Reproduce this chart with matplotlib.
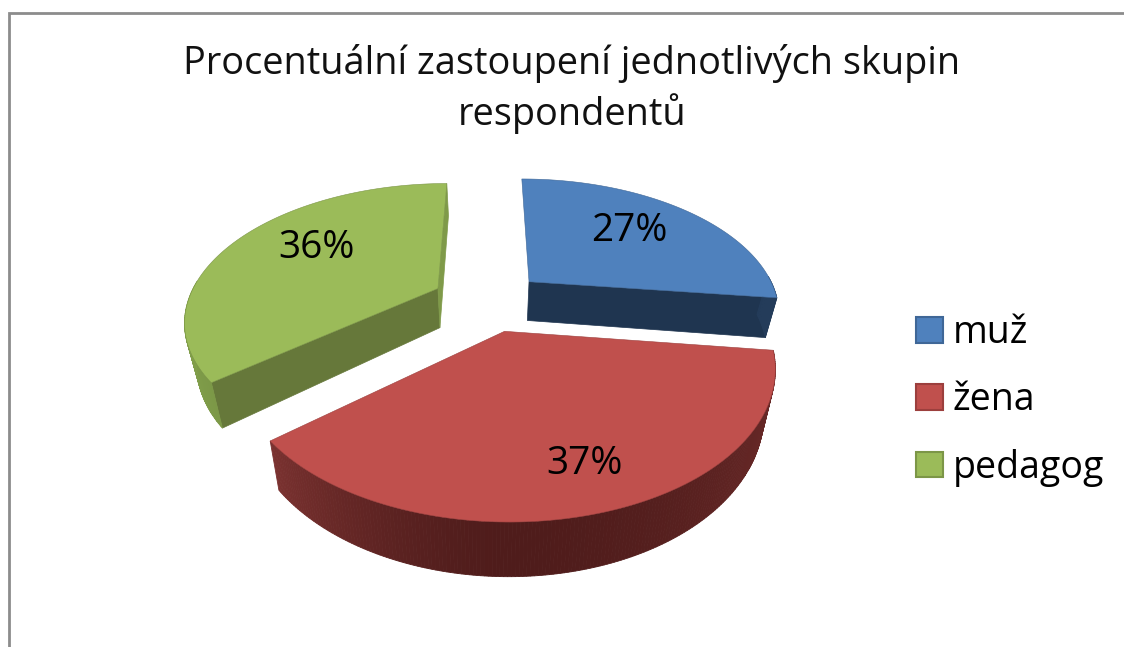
import numpy as np
import matplotlib
matplotlib.use("Agg")
import matplotlib.pyplot as plt
from matplotlib.colors import to_rgb
from matplotlib.patches import Patch, Rectangle

categories = ["muž", "žena", "pedagog"]
values = [27, 37, 36]
labels = ["27%", "37%", "36%"]
title = "Procentuální zastoupení jednotlivých skupin\nrespondentů"

top_colors = ["#4f81bd", "#c0504d", "#9bbb59"]
edge_colors = ["#3f6797", "#9c3f3d", "#7c9647"]
# viditelne rezy, None = schovany pod horni plochou
cut_start = [None, None, "#66783a"]
cut_end = ["#1f3550", None, "#7f9a49"]
wall_dark = ["#1f3550", "#4f1c1b", "#6f883f"]
wall_light = ["#2a4567", "#8f3c3a", "#82a04b"]

# pozice v pixelech
CX, CY = 488, 301
SX, SY = 250, 133
K = 0.22
EXPL = 0.226
H = 40
LEAN = 0.04


def project(u, v, h=0.0):
    # v > 0 smerem k divakovi, perspektiva jako ve 3D kolaci
    w = 1 - K * v
    x = CX + SX * u / w
    return x - (x - CX) * LEAN * h, CY + SY * v / w + h * H / w


fig = plt.figure(figsize=(11.24, 6.47), dpi=100)
ax = fig.add_axes([0, 0, 1, 1])
ax.set_xlim(0, 1124)
ax.set_ylim(647, 0)
ax.axis("off")

ax.add_patch(Rectangle((8.5, 12.5), 1300, 800, fc="white", ec="#8c8c8c", lw=2))

edges = np.cumsum([0] + values) / sum(values) * 2 * np.pi
mids = (edges[:-1] + edges[1:]) / 2


def wedge_uv(i, ang):
    du, dv = np.sin(mids[i]) * EXPL, -np.cos(mids[i]) * EXPL
    return du + np.sin(ang), dv - np.cos(ang), du, dv


for i in [0, 2, 1]:
    angs = np.linspace(edges[i], edges[i + 1], 200)
    u, v, du, dv = wedge_uv(i, angs)
    # rezy od stredu k okraji
    for a, c in [(edges[i], cut_start[i]), (edges[i + 1], cut_end[i])]:
        if c is None:
            continue
        ua, va, _, _ = wedge_uv(i, a)
        p = [project(du, dv), project(ua, va), project(ua, va, 1), project(du, dv, 1)]
        ax.fill(*zip(*p), color=c, lw=0.5)
    # vnejsi stena
    for j in range(len(angs) - 1):
        if np.cos(angs[j]) > 0.05:
            continue
        t = abs(np.sin(angs[j]))
        c0 = np.array(to_rgb(wall_dark[i]))
        c1 = np.array(to_rgb(wall_light[i]))
        col = c0 + (c1 - c0) * (t ** 1.5 if np.sin(angs[j]) < 0 else t ** 2 * 0.45)
        p = [project(u[j], v[j]), project(u[j + 1], v[j + 1]),
             project(u[j + 1], v[j + 1], 1), project(u[j], v[j], 1)]
        ax.fill(*zip(*p), color=col, lw=0.6)
    # horni plocha
    px, py = project(np.r_[du, u], np.r_[dv, v])
    ax.fill(px, py, fc=top_colors[i], ec=edge_colors[i], lw=0.4)

label_pos = [(629, 231), (584, 464), (316, 248)]
for lab, pos in zip(labels, label_pos):
    ax.text(pos[0], pos[1], lab, fontsize=28, family="Open Sans", ha="center", va="center", color="black")

ax.text(572, 89, title, fontsize=27.3, family="Open Sans", ha="center", va="center",
        linespacing=1.3, color="#111111")

handles = [Patch(fc=c, ec=e, lw=1.5) for c, e in zip(top_colors, edge_colors)]
ax.legend(handles, categories, loc="center left", bbox_to_anchor=(0.798, 0.381), frameon=False,
          prop={"family": "Open Sans", "size": 27}, handlelength=0.72, handleheight=0.68,
          handletextpad=0.27, labelspacing=0.78, borderpad=0)

fig.savefig("out.png", dpi=100)
